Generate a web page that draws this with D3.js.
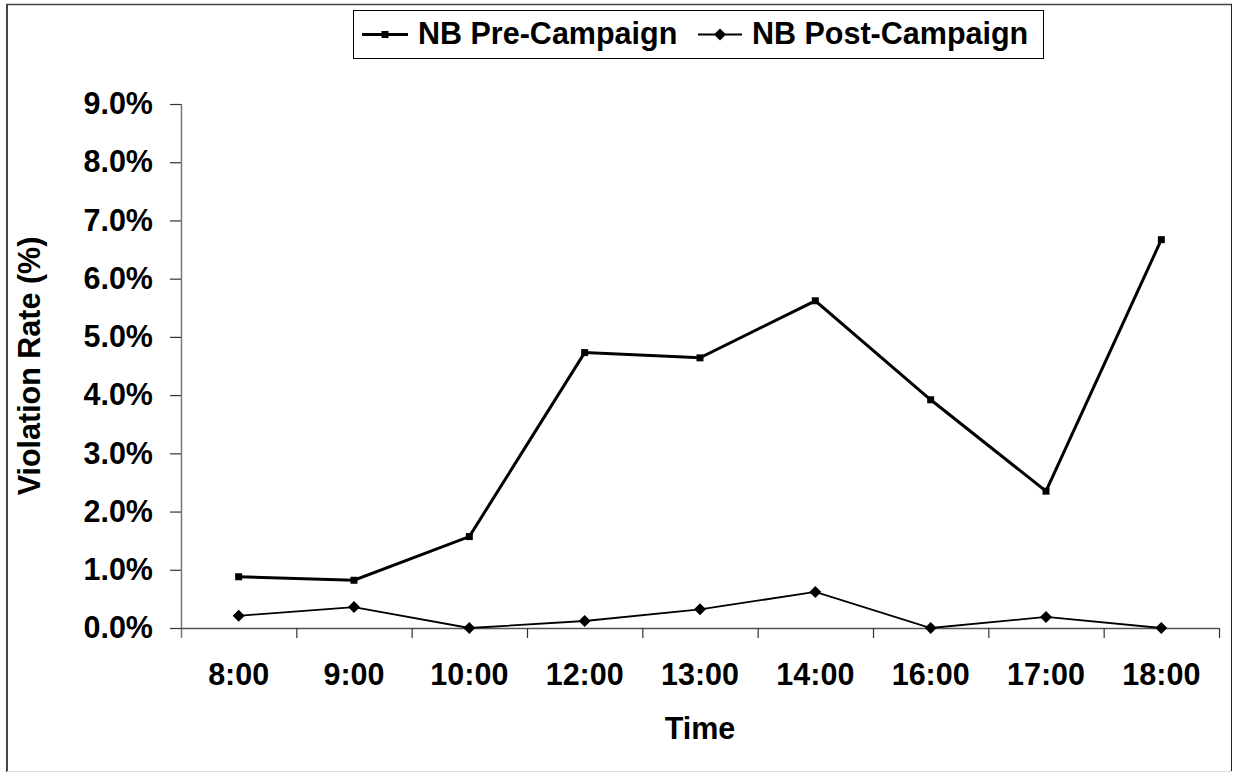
<!DOCTYPE html>
<html>
<head>
<meta charset="utf-8">
<script src="https://cdn.jsdelivr.net/npm/d3@7/dist/d3.min.js"></script>
<style>
  html, body { margin: 0; padding: 0; background: #fff; }
  svg { display: block; font-family: "Liberation Sans", Arial, sans-serif; font-weight: bold; }
</style>
</head>
<body>
<svg id="chart" width="1235" height="773"></svg>
<script>
// Violation rate by time of day, before and after the campaign
const times = ["8:00", "9:00", "10:00", "12:00", "13:00", "14:00", "16:00", "17:00", "18:00"];
const preCampaign = [0.0088, 0.0082, 0.0157, 0.0473, 0.0464, 0.0562, 0.0392, 0.0235, 0.0667];
const postCampaign = [0.0021, 0.0036, 0.0000, 0.0012, 0.0032, 0.0062, 0.0000, 0.0019, 0.0000];
const yTicks = [0, 0.01, 0.02, 0.03, 0.04, 0.05, 0.06, 0.07, 0.08, 0.09];
const seriesNames = ["NB Pre-Campaign", "NB Post-Campaign"];

const svg = d3.select("#chart");
const FONT = 30.5;

// Outer frame
svg.append("rect").attr("x", 0).attr("y", 0).attr("width", 1235).attr("height", 773).attr("fill", "#fff");
svg.append("line").attr("x1", 7).attr("x2", 7).attr("y1", 4).attr("y2", 772).attr("stroke", "#444").attr("stroke-width", 2);
svg.append("line").attr("x1", 6).attr("x2", 1232).attr("y1", 4.5).attr("y2", 4.5).attr("stroke", "#444").attr("stroke-width", 1.5);
svg.append("line").attr("x1", 1231.5).attr("x2", 1231.5).attr("y1", 4).attr("y2", 772).attr("stroke", "#222").attr("stroke-width", 1);
svg.append("line").attr("x1", 7).attr("x2", 1232).attr("y1", 771.5).attr("y2", 771.5).attr("stroke", "#ddd").attr("stroke-width", 1);

const plot = { left: 181, right: 1219, top: 104, bottom: 628 };

const x = d3.scaleBand().domain(times).range([plot.left, plot.right]).paddingInner(0).paddingOuter(0);
const y = d3.scaleLinear().domain([0, 0.09]).range([plot.bottom, plot.top]);
const cx = d => x(d) + x.bandwidth() / 2;

// Y axis
const yAxis = svg.append("g")
  .attr("transform", `translate(${plot.left},0)`)
  .call(d3.axisLeft(y).tickValues(yTicks).tickFormat(d3.format(".1%")).tickSize(11).tickPadding(17));
yAxis.select(".domain").attr("stroke", "#777").attr("stroke-width", 1.5).attr("d", `M0.5,${plot.top}V${plot.bottom + 10}`);
yAxis.selectAll(".tick line").attr("stroke", "#333").attr("stroke-width", 1.2);
yAxis.selectAll(".tick text").attr("font-size", FONT).attr("font-weight", "bold").attr("fill", "#000")
  .attr("font-family", "Liberation Sans, Arial, sans-serif");

// X axis: labels centred on bands, ticks on band boundaries
const xAxis = svg.append("g")
  .attr("transform", `translate(0,${plot.bottom})`)
  .call(d3.axisBottom(x).tickSize(0).tickPadding(35));
xAxis.select(".domain").attr("stroke", "#555").attr("stroke-width", 1.5).attr("d", `M${plot.left},0.5H${plot.right}`);
xAxis.selectAll(".tick text").attr("font-size", FONT).attr("font-weight", "bold").attr("fill", "#000")
  .attr("font-family", "Liberation Sans, Arial, sans-serif");
const boundaries = times.map(t => x(t)).concat([x(times[times.length - 1]) + x.bandwidth()]).slice(1);
xAxis.selectAll("line.boundary").data(boundaries).join("line")
  .attr("class", "boundary")
  .attr("x1", d => d + 0.5).attr("x2", d => d + 0.5)
  .attr("y1", 0).attr("y2", 10)
  .attr("stroke", "#333").attr("stroke-width", 1.2);

// Diamond marker
const diamond = {
  draw(context, size) {
    const r = Math.sqrt(size) / 2;
    context.moveTo(0, -r); context.lineTo(r, 0); context.lineTo(0, r); context.lineTo(-r, 0); context.closePath();
  }
};

const lineGen = d3.line().x(d => cx(d.t)).y(d => y(d.v));
const preData = times.map((t, i) => ({ t, v: preCampaign[i] }));
const postData = times.map((t, i) => ({ t, v: postCampaign[i] }));

// Post-campaign series
svg.append("path").datum(postData).attr("d", lineGen)
  .attr("fill", "none").attr("stroke", "#000").attr("stroke-width", 1.8).attr("stroke-linejoin", "miter");
svg.selectAll("path.post-marker").data(postData).join("path")
  .attr("class", "post-marker")
  .attr("transform", d => `translate(${cx(d.t)},${y(d.v)})`)
  .attr("d", d3.symbol().type(diamond).size(144))
  .attr("fill", "#000");

// Pre-campaign series
svg.append("path").datum(preData).attr("d", lineGen)
  .attr("fill", "none").attr("stroke", "#000").attr("stroke-width", 3).attr("stroke-linejoin", "miter");
svg.selectAll("path.pre-marker").data(preData).join("path")
  .attr("class", "pre-marker")
  .attr("transform", d => `translate(${cx(d.t)},${y(d.v)})`)
  .attr("d", d3.symbol().type(d3.symbolSquare).size(49))
  .attr("fill", "#000");

// Axis titles
svg.append("text").attr("x", (plot.left + plot.right) / 2).attr("y", 739)
  .attr("text-anchor", "middle").attr("font-size", FONT).attr("fill", "#000").text("Time");
svg.append("text").attr("transform", `translate(40,${(plot.top + plot.bottom) / 2}) rotate(-90)`)
  .attr("text-anchor", "middle").attr("font-size", FONT).attr("fill", "#000").text("Violation Rate (%)");

// Legend
const legend = svg.append("g");
legend.append("rect").attr("x", 353.5).attr("y", 10.5).attr("width", 690).attr("height", 48)
  .attr("fill", "#fff").attr("stroke", "#000").attr("stroke-width", 1);
const legendItems = [
  { name: seriesNames[0], x0: 362, x1: 408, tx: 418, width: 3, marker: d3.symbol().type(d3.symbolSquare).size(49)() },
  { name: seriesNames[1], x0: 698, x1: 742, tx: 752, width: 1.8, marker: d3.symbol().type(diamond).size(144)() }
];
const ly = 34.5;
legendItems.forEach(it => {
  legend.append("line").attr("x1", it.x0).attr("x2", it.x1).attr("y1", ly).attr("y2", ly)
    .attr("stroke", "#000").attr("stroke-width", it.width);
  legend.append("path").attr("d", it.marker).attr("transform", `translate(${(it.x0 + it.x1) / 2},${ly})`).attr("fill", "#000");
  legend.append("text").attr("x", it.tx).attr("y", 44).attr("font-size", FONT).attr("fill", "#000").text(it.name);
});
</script>
</body>
</html>
